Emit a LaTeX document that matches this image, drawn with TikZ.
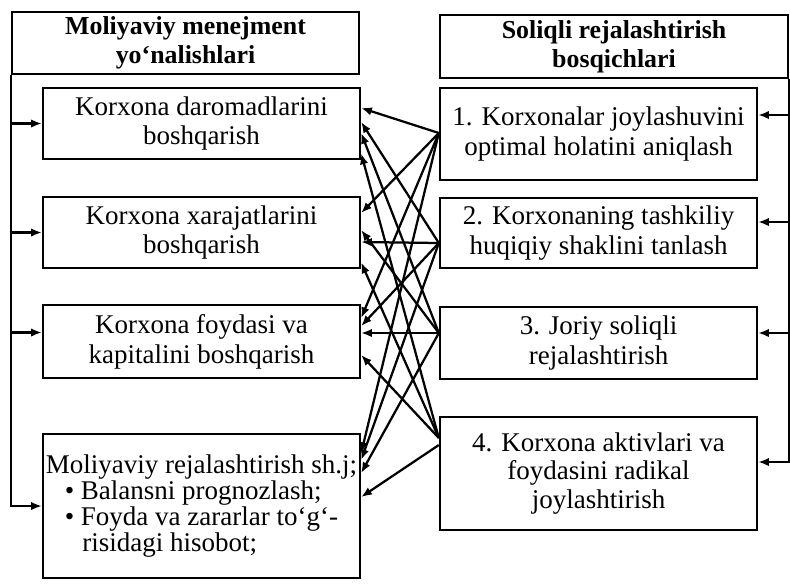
\documentclass[tikz,border=0pt]{standalone}
\usepackage{fontspec}
\setmainfont{Liberation Serif}
\usetikzlibrary{calc, arrows.meta}

\tikzset{
	box/.style={draw, thick, align=center, inner sep=0pt, minimum width=3.9625cm},
	head/.style={box, font=\fontsize{9.2}{10.3}\selectfont\bfseries},
	link/.style={thick, -{Latex[length=3.8pt, width=3pt]}},
}

\begin{document}
\begin{tikzpicture}[x=0.0125cm, y=0.0125cm, font=\fontsize{9.6}{10.6}\selectfont]
		\useasboundingbox (0,0) rectangle (790,-583);
		% Moliyaviy menejment
		\node (lhead) [head, minimum width=4.3375cm, minimum height=0.775cm] at (185.5,-43) {Moliyaviy menejment\\ yo‘nalishlari};
		\node (l1) [box, minimum height=0.8875cm] at (201.5,-123.5) {Korxona daromadlarini\\ boshqarish};
		\node (l2) [box, minimum height=0.8875cm] at (201.5,-232.5) {Korxona xarajatlarini\\ boshqarish};
		\node (l3) [box, minimum height=0.9125cm] at (201.5,-341.5) {Korxona foydasi va\\ kapitalini boshqarish};
		\node (l4) [box, minimum height=1.8cm, align=left, font=\fontsize{9.6}{9.3}\selectfont] at (201.5,-506) {Moliyaviy rejalashtirish sh.j;\\ \hspace*{0.7em}• Balansni prognozlash;\\ \hspace*{0.7em}• Foyda va zararlar to‘g‘-\\ \hspace*{1.35em}risidagi hisobot;};
		
		% Soliqli rejalashtirish
		\node (rhead) [head, minimum width=4.35cm, minimum height=0.7875cm] at (614,-46.5) {Soliqli rejalashtirish\\ bosqichlari};
		\node (r1) [box, minimum height=1.15cm] at (598.5,-134) {1. Korxonalar joylashuvini\\ optimal holatini aniqlash};
		\node (r2) [box, minimum height=0.875cm] at (598.5,-233) {2. Korxonaning tashkiliy\\ huqiqiy shaklini tanlash};
		\node (r3) [box, minimum height=0.9cm] at (598.5,-343) {3. Joriy soliqli\\ rejalashtirish};
		\node (r4) [box, minimum height=1.4125cm, font=\fontsize{9.6}{10.1}\selectfont] at (598.5,-473.5) {4. Korxona aktivlari va\\ foydasini radikal\\ joylashtirish};
		
		% left feed
		\coordinate (l3in) at ($(l3.west)+(0,9)$);
		\draw[link] (lhead.south west) |- (l4.west);
		\draw[link] (lhead.south west |- l1.west) -- (l1.west);
		\draw[link] (lhead.south west |- l2.west) -- (l2.west);
		\draw[link] (lhead.south west |- l3in) -- (l3in);
		
		% right feed
		\coordinate (r1in) at ($(r1.east)+(0,19)$);
		\coordinate (r2in) at ($(r2.east)+(0,11)$);
		\coordinate (r3in) at ($(r3.east)+(0,10)$);
		\coordinate (r4in) at ($(r4.east)+(0,11.5)$);
		\draw[link] (rhead.south east) |- (r4in);
		\draw[link] (rhead.south east |- r1in) -- (r1in);
		\draw[link] (rhead.south east |- r2in) -- (r2in);
		\draw[link] (rhead.south east |- r3in) -- (r3in);
		
		% links between the columns
		\coordinate (s1) at ($(r1.west)+(0,1)$);
		\coordinate (s2) at ($(r2.west)+(0,-10)$);
		\coordinate (s3) at ($(r3.west)+(0,10)$);
		\coordinate (s4) at ($(r4.west)+(0,35.5)$);
		\coordinate (s4b) at ($(r4.west)+(0,28.5)$);
		
		\draw[link] (s1) -- ($(l1.east)+(0,15.5)$);
		\draw[link] (s1) -- ($(l2.east)+(0,19.5)$);
		\draw[link] (s1) -- ($(l3.east)+(0,23.5)$);
		\draw[link] (s1) -- ($(l4.east)+(0,53)$);
		\draw[link] (s2) -- ($(l1.east)+(0,1.5)$);
		\draw[link] (s2) -- ($(l2.east)+(0,-9.5)$);
		\draw[link] (s2) -- ($(l3.east)+(0,15.5)$);
		\draw[link] (s2) -- ($(l4.east)+(0,46)$);
		\draw[link] (s3) -- ($(l1.east)+(0,-9.5)$);
		\draw[link] (s3) -- ($(l2.east)+(0,2.5)$);
		\draw[link] (s3) -- ($(l3.east)+(0,8.5)$);
		\draw[link] (s3) -- ($(l4.east)+(0,33)$);
		\draw[link] (s4) -- ($(l1.east)+(0,-30)$);
		\draw[link] (s4) -- ($(l2.east)+(0,-30)$);
		\draw[link] (s4) -- ($(l3.east)+(0,-13.5)$);
		\draw[link] (s4b) -- ($(l4.east)+(0,9)$);
	\end{tikzpicture}
\end{document}
